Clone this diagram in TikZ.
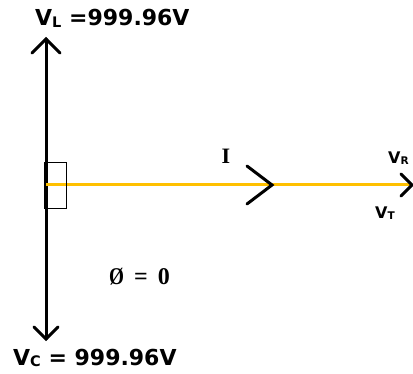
\documentclass[tikz,border=0pt]{standalone}
\usepackage{fontspec}
\newfontfamily\labelfont{DejaVu Sans}
\newfontfamily\seriffont{Liberation Serif}
\usetikzlibrary{arrows.meta, positioning, calc}
\definecolor{phasoryellow}{RGB}{255,192,0}
\newcommand{\lowsub}[1]{\raisebox{-0.15ex}{\fontsize{0.66em}{1em}\selectfont #1}}

\begin{document}
\begin{tikzpicture}[x=1pt, y=-1pt, every node/.style={font=\labelfont\bfseries, inner sep=0pt}]
    \useasboundingbox (0,0) rectangle (413,374);
    \tikzset{
        phasor/.style={line width=3pt, line cap=round},
        chevron/.style={line width=3pt, line cap=round, line join=miter},
        biglabel/.style={font=\fontsize{22}{26}\selectfont\labelfont\bfseries},
        smalllabel/.style={font=\fontsize{16}{19}\selectfont\labelfont\bfseries},
        serifbold/.style={font=\fontsize{22}{26}\selectfont\seriffont\bfseries}
    }
    \coordinate (O) at (46,185);
    \coordinate (VLtip) at (46,39);
    \coordinate (VCtip) at (46,339);
    \coordinate (VRtip) at (412,185);
    \coordinate (Imark) at (272,185);
    % Eje vertical (VL y VC)
    \draw[phasor] (VLtip) -- (VCtip);
    \draw[chevron] ($(VLtip)+(-14,14)$) -- (VLtip) -- ($(VLtip)+(14,14)$);
    \draw[chevron] ($(VCtip)+(-12,-12)$) -- (VCtip) -- ($(VCtip)+(12,-12)$);
    % Fasor de corriente
    \draw[phasoryellow, line width=3pt] (O) -- (VRtip);
    \draw[chevron] ($(Imark)+(-25,-19)$) -- (Imark) -- ($(Imark)+(-25,19)$);
    \draw[chevron] ($(VRtip)+(-11,-11)$) -- (VRtip) -- ($(VRtip)+(-11,11)$);
    % Angulo recto
    \draw[line width=0.8pt] (44,162) rectangle (66,208);
    % Etiquetas
    \node[biglabel, anchor=west] (VL) at (35,18) {V\lowsub{L} =999.96V};
    \node[biglabel, anchor=west] (VC) at (13,358) {V\lowsub{C} = 999.96V};
    \node[smalllabel, anchor=west] (VR) at (388,158) {V\lowsub{R}};
    \node[smalllabel, anchor=west] (VT) at (375,213) {V\lowsub{T}};
    \node[serifbold] (I) at (226,156) {I};
    \node[serifbold, font=\fontsize{24}{28}\selectfont\seriffont\bfseries, anchor=west] (phi) at (109,277)
        {\scalebox{0.8}[1]{\O}\hspace{0.42em}=\hspace{0.42em}0};
\end{tikzpicture}
\end{document}
